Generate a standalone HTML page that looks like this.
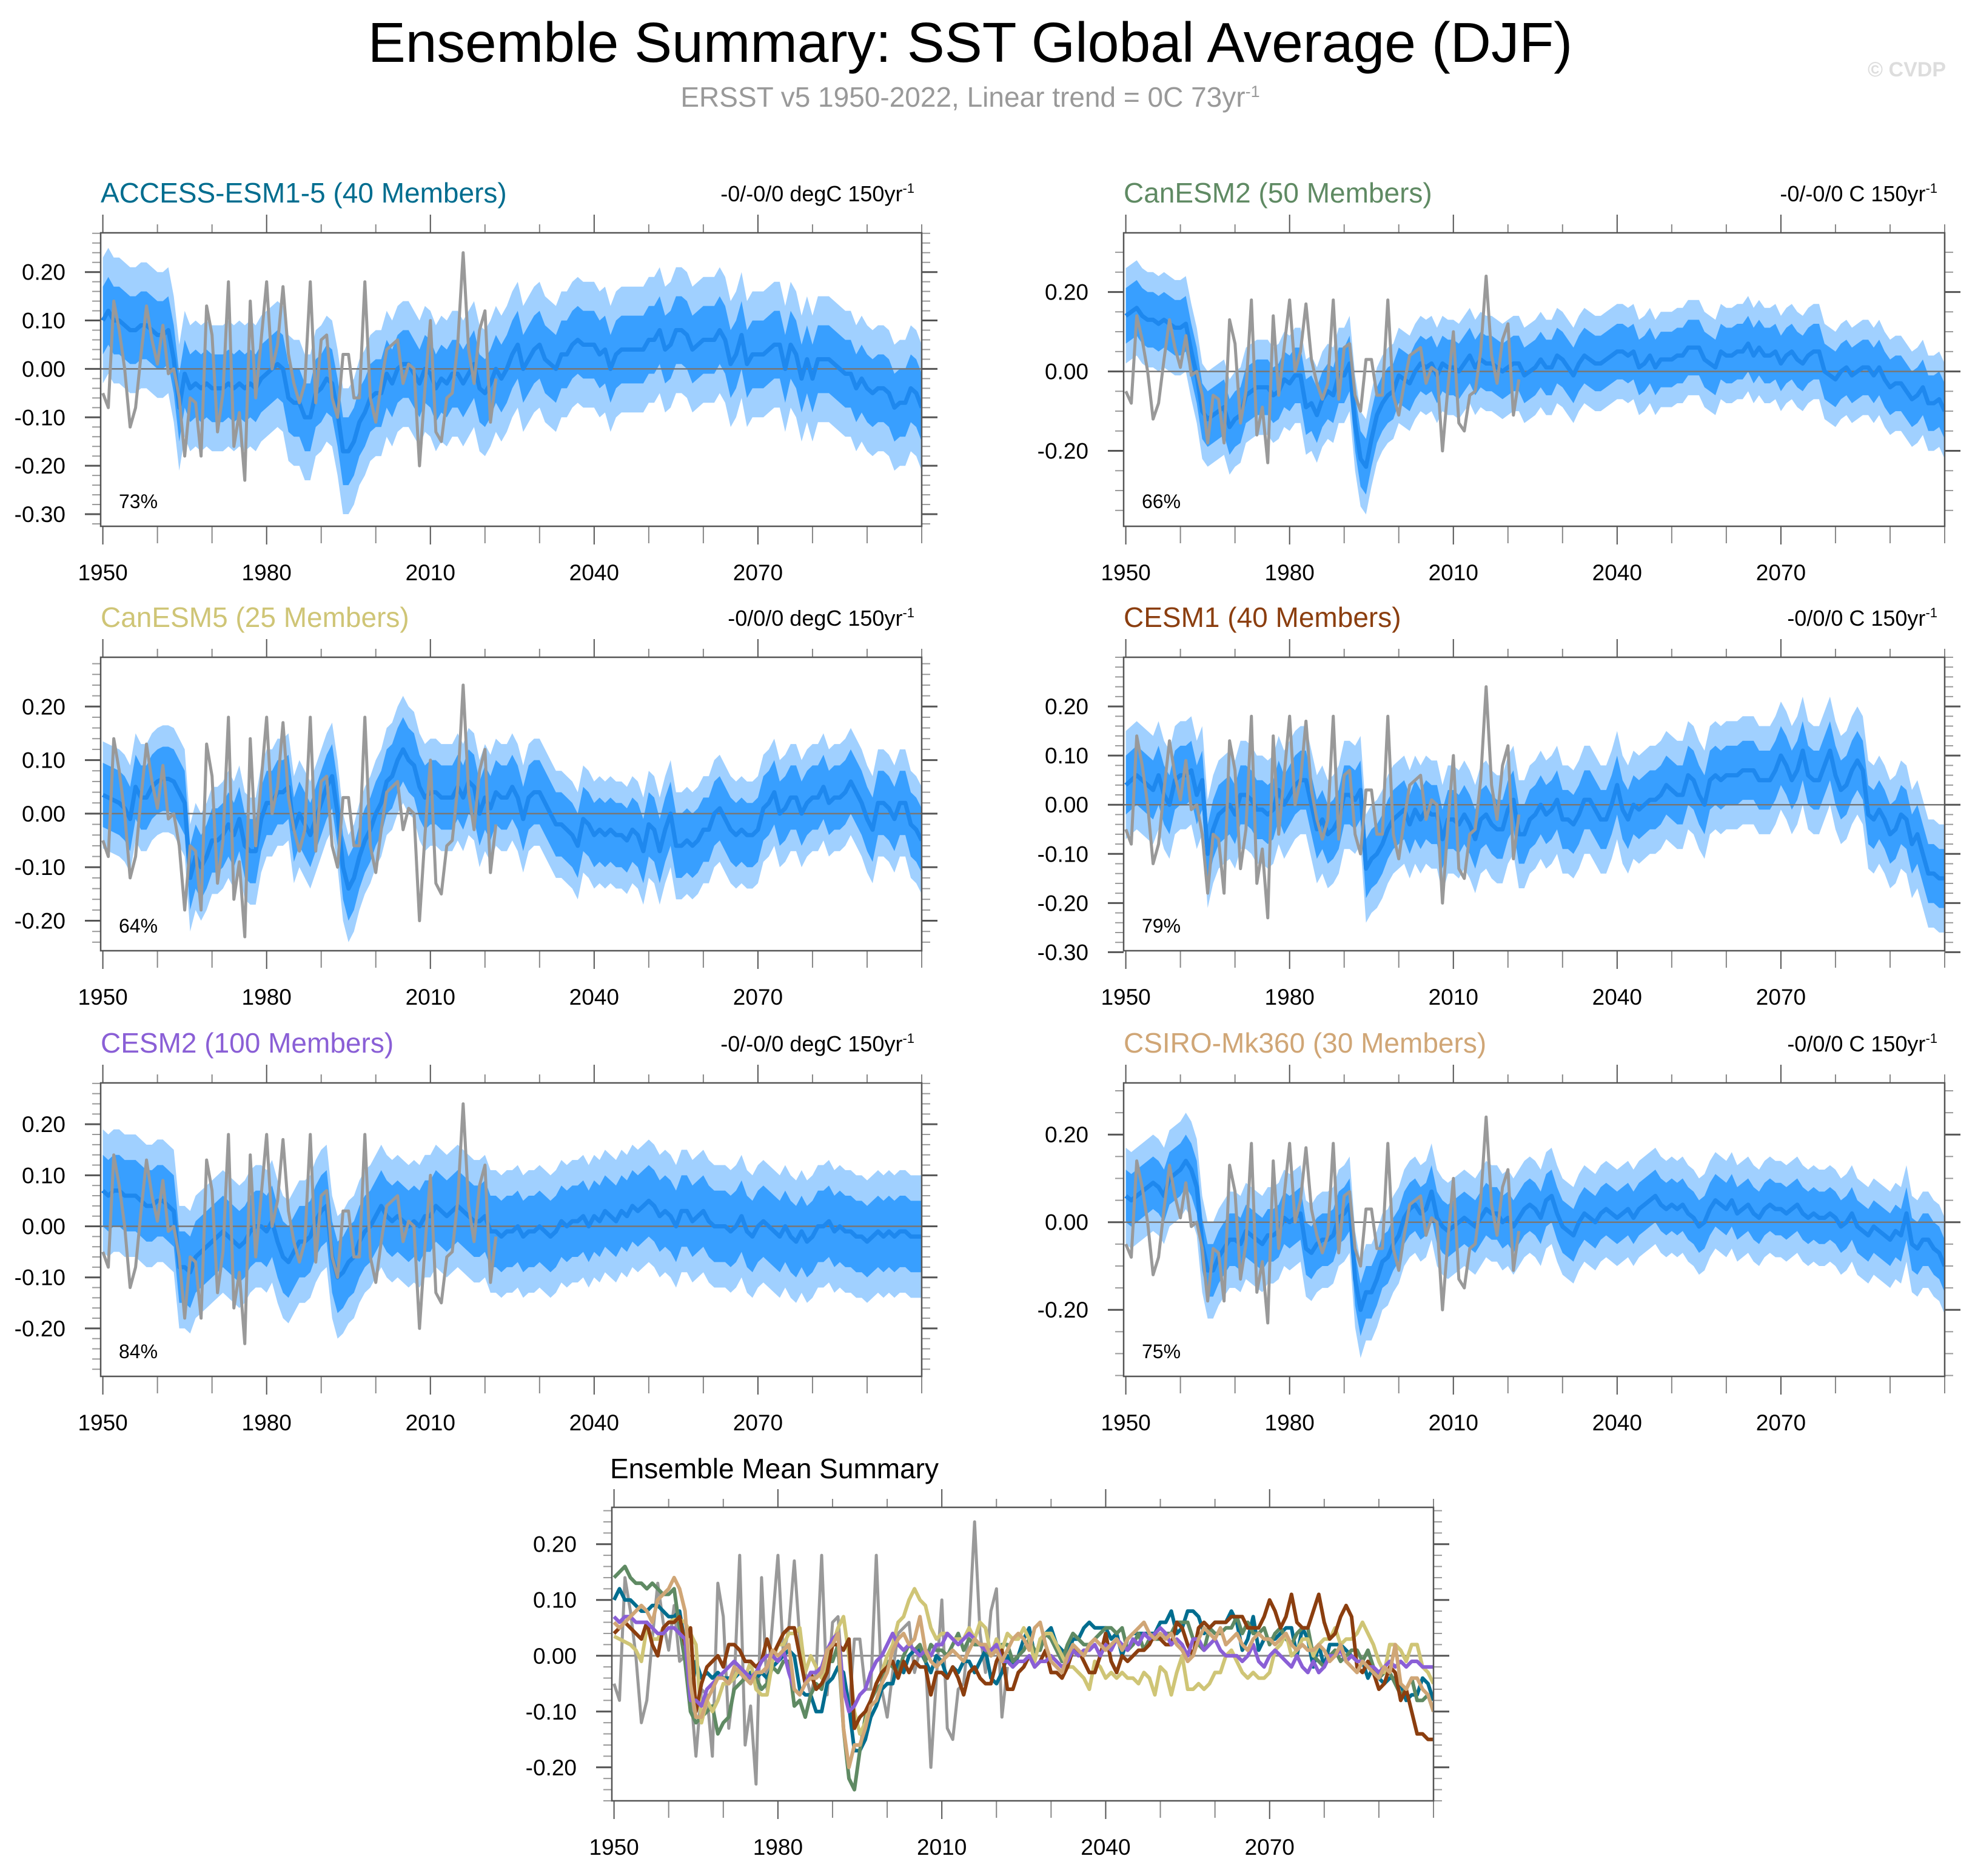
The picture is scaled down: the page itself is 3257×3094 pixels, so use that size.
<!DOCTYPE html>
<html><head><meta charset="utf-8"><style>
html,body{margin:0;padding:0;background:#fff}
svg{display:block;font-family:"Liberation Sans",Arial,sans-serif}
</style></head><body>
<svg id="fig" width="3257" height="3094" viewBox="0 0 3257 3094" xmlns="http://www.w3.org/2000/svg">
<text x="1600" y="102" text-anchor="middle" font-size="93" fill="#000">Ensemble Summary: SST Global Average (DJF)</text>
<text x="1600" y="176" text-anchor="middle" font-size="46" fill="#999">ERSST v5 1950-2022, Linear trend = 0C 73yr<tspan dy="-16" font-size="27">-1</tspan></text>
<text x="3209" y="126" text-anchor="end" font-size="34" font-weight="bold" fill="#ddd">© CVDP</text>
<g id="plots"></g>
</svg>
<script>
const obsYears0 = 1950;
const obs = [-0.05,-0.08,0.14,0.08,0.00,-0.12,-0.08,0.03,0.13,0.06,0.01,0.09,-0.01,0.00,-0.06,-0.18,-0.06,-0.07,-0.18,0.13,0.07,-0.13,-0.05,0.18,-0.16,-0.09,-0.23,0.14,-0.06,0.06,0.18,0.00,0.05,0.17,0.03,-0.03,-0.07,-0.03,0.18,-0.07,0.06,0.07,-0.06,-0.10,0.03,0.03,-0.06,-0.06,0.18,-0.06,-0.11,-0.03,0.04,0.05,0.06,-0.03,0.01,0.00,-0.20,-0.04,0.10,-0.13,-0.15,-0.06,-0.05,0.05,0.24,0.04,-0.03,0.08,0.12,-0.11,-0.02];
const meanACCESS = [0.10,0.12,0.10,0.10,0.09,0.08,0.08,0.09,0.09,0.08,0.07,0.07,0.08,0.02,-0.08,-0.01,-0.04,-0.03,-0.04,-0.03,-0.04,-0.04,-0.04,-0.03,-0.04,-0.03,-0.04,-0.03,-0.04,-0.02,-0.01,0.00,0.01,0.00,-0.06,-0.07,-0.07,-0.10,-0.10,-0.05,-0.04,-0.02,-0.03,-0.09,-0.17,-0.17,-0.15,-0.11,-0.09,-0.06,-0.05,-0.05,-0.01,-0.03,0.00,0.01,0.01,-0.01,-0.03,0.00,-0.01,-0.04,-0.02,-0.03,-0.01,-0.01,-0.03,-0.01,0.01,-0.04,-0.05,-0.03,0.00,-0.02,0.00,0.03,0.05,0.00,0.02,0.04,0.05,0.02,0.01,0.00,0.03,0.03,0.05,0.06,0.05,0.05,0.05,0.03,0.04,0.00,0.03,0.04,0.04,0.04,0.04,0.04,0.06,0.06,0.08,0.04,0.05,0.08,0.08,0.07,0.04,0.05,0.06,0.06,0.06,0.08,0.06,0.01,0.03,0.07,0.01,0.03,0.03,0.03,0.04,0.05,0.05,0.00,0.05,0.03,-0.02,0.02,-0.02,0.02,0.02,0.02,0.01,0.00,-0.01,-0.01,-0.04,-0.02,-0.04,-0.05,-0.04,-0.04,-0.05,-0.08,-0.07,-0.07,-0.04,-0.05,-0.08];
const meanCanESM2 = [0.14,0.15,0.16,0.14,0.13,0.13,0.12,0.13,0.12,0.11,0.11,0.12,0.05,-0.01,-0.10,-0.12,-0.11,-0.10,-0.09,-0.14,-0.12,-0.11,-0.06,-0.05,-0.04,-0.04,-0.04,-0.06,-0.05,-0.02,-0.03,-0.01,-0.01,-0.09,-0.08,-0.11,-0.07,-0.05,-0.06,-0.01,-0.01,0.02,-0.13,-0.22,-0.24,-0.17,-0.11,-0.08,-0.06,-0.05,-0.01,-0.02,-0.03,0.00,0.02,0.01,0.02,-0.01,0.02,0.01,0.01,0.00,0.02,0.04,0.01,0.03,0.02,0.02,0.01,0.00,0.01,0.02,0.02,-0.01,0.00,0.01,0.03,0.01,0.01,0.04,0.03,0.01,-0.01,0.02,0.04,0.03,0.02,0.02,0.03,0.04,0.05,0.05,0.04,0.05,0.01,0.02,0.04,0.01,0.03,0.03,0.03,0.04,0.04,0.06,0.06,0.06,0.03,0.02,0.01,0.05,0.04,0.04,0.05,0.05,0.07,0.04,0.06,0.04,0.04,0.05,0.02,0.04,0.05,0.03,0.02,0.04,0.05,0.05,0.00,-0.01,-0.02,0.00,0.01,-0.01,0.00,0.01,0.01,-0.01,0.01,-0.02,-0.04,-0.03,-0.03,-0.05,-0.07,-0.06,-0.04,-0.08,-0.08,-0.07,-0.10];
const meanCanESM5 = [0.035,0.03,0.025,0.02,0.01,-0.01,0.05,0.03,0.03,0.05,0.06,0.065,0.065,0.06,0.04,0.02,-0.12,-0.08,-0.10,-0.08,-0.05,-0.05,-0.04,-0.02,-0.04,-0.01,-0.06,-0.07,-0.07,-0.01,0.02,0.02,0.04,0.04,0.05,-0.03,0.00,-0.02,-0.04,-0.01,0.02,0.05,0.07,0.00,-0.10,-0.14,-0.12,-0.08,-0.05,-0.03,0.00,0.02,0.06,0.07,0.10,0.12,0.10,0.09,0.05,0.03,0.04,0.04,0.03,0.03,0.03,0.05,0.03,0.06,0.05,0.00,0.03,0.01,0.04,0.03,0.03,0.05,0.03,-0.01,0.03,0.04,0.04,0.02,0.00,-0.02,-0.02,-0.03,-0.04,-0.06,-0.01,-0.02,-0.04,-0.03,-0.04,-0.03,-0.04,-0.04,-0.05,-0.03,-0.04,-0.07,-0.02,-0.03,-0.07,-0.03,0.00,-0.06,-0.06,-0.05,-0.06,-0.05,-0.03,-0.03,0.00,0.01,-0.01,-0.03,-0.04,-0.03,-0.04,-0.04,-0.03,0.01,0.02,0.04,0.00,0.01,0.03,0.03,0.00,0.02,0.03,0.03,0.05,0.02,0.03,0.03,0.04,0.06,0.04,0.02,-0.01,-0.03,0.02,0.02,0.01,-0.01,0.02,0.02,-0.02,-0.03,-0.05];
const meanCESM1 = [0.04,0.05,0.06,0.05,0.04,0.03,0.06,0.02,0.00,0.05,0.06,0.06,0.07,0.02,0.05,-0.10,-0.05,-0.02,-0.01,0.00,-0.02,0.02,0.02,0.01,-0.01,-0.01,-0.02,-0.01,0.03,0.00,0.02,0.04,0.05,0.05,0.00,-0.05,-0.03,-0.06,-0.05,-0.03,0.02,0.02,0.01,0.03,-0.13,-0.11,-0.10,-0.08,-0.05,-0.03,-0.02,-0.01,-0.04,-0.01,-0.03,-0.01,-0.02,-0.02,-0.07,-0.03,-0.03,-0.04,-0.02,-0.04,-0.07,-0.03,-0.02,-0.04,-0.05,-0.05,-0.01,0.01,-0.06,-0.06,-0.03,-0.02,0.00,-0.02,-0.01,0.01,-0.03,-0.03,-0.04,-0.02,0.01,0.01,-0.01,-0.03,-0.03,0.00,0.04,-0.01,-0.03,0.00,-0.01,0.00,0.01,0.01,0.02,0.04,0.03,0.02,0.02,0.06,0.05,0.02,0.00,0.05,0.06,0.05,0.06,0.06,0.06,0.07,0.07,0.07,0.05,0.05,0.05,0.07,0.10,0.08,0.05,0.07,0.11,0.06,0.05,0.05,0.08,0.11,0.06,0.03,0.04,0.07,0.09,0.07,-0.02,-0.03,-0.01,-0.03,-0.06,-0.05,-0.02,-0.03,-0.08,-0.06,-0.10,-0.14,-0.14,-0.15,-0.15];
const meanCESM2 = [0.07,0.06,0.07,0.07,0.06,0.06,0.06,0.05,0.04,0.04,0.05,0.05,0.04,0.03,-0.08,-0.08,-0.09,-0.06,-0.05,-0.04,-0.03,-0.02,-0.01,-0.02,-0.03,-0.04,-0.03,-0.01,0.00,0.00,-0.01,0.01,-0.03,-0.06,-0.07,-0.05,-0.03,-0.03,-0.02,0.01,0.03,0.04,-0.06,-0.10,-0.09,-0.07,-0.06,-0.03,-0.01,0.00,0.02,0.04,0.02,0.01,0.02,0.01,0.00,0.01,0.00,0.02,0.02,0.04,0.03,0.02,0.03,0.04,0.03,0.02,0.01,0.01,0.02,-0.01,-0.01,-0.02,-0.01,-0.01,0.00,-0.02,-0.01,-0.01,0.00,-0.01,-0.02,-0.01,0.01,0.00,0.01,0.01,0.02,0.00,0.02,0.01,0.03,0.02,0.01,0.03,0.02,0.04,0.03,0.04,0.05,0.04,0.02,0.03,0.02,0.00,0.03,0.03,0.01,0.02,0.03,0.01,0.00,0.00,0.00,-0.01,0.00,0.02,-0.01,-0.02,0.00,0.01,0.00,-0.01,-0.02,0.00,-0.02,-0.03,-0.01,-0.03,-0.02,0.00,0.00,0.01,-0.01,0.00,-0.01,-0.01,-0.02,-0.02,-0.03,-0.02,-0.01,-0.02,-0.01,-0.02,-0.01,-0.01,-0.02,-0.02,-0.02];
const meanCSIRO = [0.06,0.05,0.06,0.07,0.08,0.09,0.08,0.06,0.10,0.11,0.12,0.14,0.12,0.08,-0.05,-0.11,-0.11,-0.08,-0.06,-0.04,-0.04,-0.05,-0.02,-0.03,-0.04,-0.05,-0.03,-0.03,-0.02,0.01,0.00,0.01,0.02,-0.06,-0.07,-0.05,-0.04,-0.04,-0.03,0.01,0.02,0.04,-0.13,-0.20,-0.16,-0.16,-0.13,-0.09,-0.08,-0.05,-0.03,0.01,0.03,0.04,0.02,0.03,0.07,0.01,-0.01,-0.02,-0.01,0.00,0.01,0.00,-0.01,0.01,0.03,0.02,0.02,0.00,0.01,-0.01,0.01,0.03,0.04,0.03,0.01,0.05,0.06,0.02,-0.01,-0.02,-0.03,0.00,0.02,0.01,0.00,0.02,0.03,0.02,0.01,0.02,0.03,0.01,0.03,0.04,0.05,0.06,0.04,0.03,0.04,0.03,0.04,0.02,0.01,-0.01,0.00,0.03,0.05,0.04,0.03,0.05,0.02,0.03,0.04,0.02,0.01,0.03,0.04,0.03,0.03,0.02,0.03,0.04,0.02,0.01,0.02,0.01,0.01,0.02,0.01,-0.01,0.00,0.02,-0.01,-0.02,-0.03,-0.01,-0.02,-0.03,-0.04,-0.02,-0.03,0.02,-0.05,-0.06,-0.04,-0.04,-0.06,-0.07,-0.10];
const innerSpread = [0.07,0.07,0.06,0.06,0.07,0.06];
const outerSpread = [0.13,0.12,0.10,0.11,0.12,0.11];
const modelNames = ["ACCESS-ESM1-5 (40 Members)","CanESM2 (50 Members)","CanESM5 (25 Members)","CESM1 (40 Members)","CESM2 (100 Members)","CSIRO-Mk360 (30 Members)"];
const patternPct = ["73%","66%","64%","79%","84%","75%"];
const trendNotes = ["-0/-0/0 degC 150yr","-0/-0/0 C 150yr","-0/0/0 degC 150yr","-0/0/0 C 150yr","-0/-0/0 degC 150yr","-0/0/0 C 150yr"];
const yTicks1 = [0.2,0.1,0,-0.1,-0.2,-0.3];
const yTicks2 = [0.2,0,-0.2];
const yTicks3 = [0.2,0.1,0,-0.1,-0.2];
const xTickYears = [1950,1980,2010,2040,2070];
const means = [meanACCESS,meanCanESM2,meanCanESM5,meanCESM1,meanCESM2,meanCSIRO];
const modelColors = ["#006d8f","#5f8a63","#cfc576","#8b3e0f","#8a5fd6","#d0a676"];

const NS="http://www.w3.org/2000/svg";
const root=document.getElementById('plots');
function mk(tag,attrs,parent){const e=document.createElementNS(NS,tag);for(const k in attrs)e.setAttribute(k,attrs[k]);(parent||root).appendChild(e);return e;}

const panels=[
 {x:166,y:384,w:1354,h:484,ymin:-0.325,ymax:0.281,ticks:yTicks1,minor:0.02},
 {x:1853,y:384,w:1354,h:484,ymin:-0.39,ymax:0.349,ticks:yTicks2,minor:0.05},
 {x:166,y:1084,w:1354,h:484,ymin:-0.256,ymax:0.292,ticks:yTicks3,minor:0.02},
 {x:1853,y:1084,w:1354,h:484,ymin:-0.297,ymax:0.30,ticks:yTicks1,minor:0.02},
 {x:166,y:1786,w:1354,h:484,ymin:-0.294,ymax:0.281,ticks:yTicks3,minor:0.02},
 {x:1853,y:1786,w:1354,h:484,ymin:-0.352,ymax:0.318,ticks:yTicks2,minor:0.05}
];
const bottom={x:1009,y:2486,w:1355,h:484,ymin:-0.26,ymax:0.266,ticks:yTicks3,minor:0.02};

function axes(p){
  const xs=yr=>p.x+(yr-1949.6)*p.w/150.4;
  const ys=v=>p.y+(p.ymax-v)/(p.ymax-p.ymin)*p.h;
  return {xs,ys};
}
function pathFrom(arr,start,xs,ys){return arr.map((v,i)=>(i?'L':'M')+xs(start+i).toFixed(1)+' '+ys(v).toFixed(1)).join(' ');}
function bandPath(arr,d,xs,ys){
  let up=arr.map((v,i)=>(i?'L':'M')+xs(1950+i).toFixed(1)+' '+ys(v+d).toFixed(1)).join(' ');
  let dn=arr.slice().reverse().map((v,i)=>'L'+xs(1950+arr.length-1-i).toFixed(1)+' '+ys(v-d).toFixed(1)).join(' ');
  return up+' '+dn+' Z';
}
function frame(p,g,xs,ys,name){
  const clip=mk('clipPath',{id:'c'+name},g);
  mk('rect',{x:p.x,y:p.y,width:p.w,height:p.h},clip);
  for(let v=Math.ceil(p.ymin/p.minor)*p.minor;v<=p.ymax+1e-9;v+=p.minor){
    const y=ys(v);
    mk('line',{x1:p.x-14,x2:p.x,y1:y,y2:y,stroke:'#999','stroke-width':2},g);
    mk('line',{x1:p.x+p.w,x2:p.x+p.w+14,y1:y,y2:y,stroke:'#999','stroke-width':2},g);
  }
  p.ticks.forEach(v=>{
    const y=ys(v);
    const t1=mk('line',{x1:p.x-26,x2:p.x,y1:y,y2:y,stroke:'#555','stroke-width':3},g);
    
    
    mk('line',{x1:p.x+p.w,x2:p.x+p.w+26,y1:y,y2:y,stroke:'#555','stroke-width':3},g);
    const t=mk('text',{x:p.x-58,y:y+13,'text-anchor':'end','font-size':37,fill:'#000'},g);
    
    
    t.textContent=v.toFixed(2);
  });
  for(let yr=1960;yr<=2100;yr+=10){
    if(xTickYears.includes(yr))continue;
    const x=xs(yr);
    mk('line',{x1:x,x2:x,y1:p.y-14,y2:p.y,stroke:'#888','stroke-width':2},g);
    mk('line',{x1:x,x2:x,y1:p.y+p.h,y2:p.y+p.h+28,stroke:'#888','stroke-width':2},g);
  }
  xTickYears.forEach(yr=>{
    const x=xs(yr);
    mk('line',{x1:x,x2:x,y1:p.y-30,y2:p.y,stroke:'#555','stroke-width':2},g);
    mk('line',{x1:x,x2:x,y1:p.y+p.h,y2:p.y+p.h+30,stroke:'#555','stroke-width':2},g);
    const t=mk('text',{x:x,y:p.y+p.h+89,'text-anchor':'middle','font-size':37,fill:'#000'},g);
    
    
    t.textContent=yr;
  });
}

panels.forEach((p,i)=>{
  const g=mk('g',{});
  
  
  const {xs,ys}=axes(p);
  const cid='p'+i;
  frame(p,g,xs,ys,cid);
  const inner=mk('g',{'clip-path':'url(#c'+cid+')'},g);
  const ob=mk('path',{d:bandPath(means[i],outerSpread[i],xs,ys),fill:'#a0d0ff'},inner);
  
  
  const ib=mk('path',{d:bandPath(means[i],innerSpread[i],xs,ys),fill:'#389fff'},inner);
  
  
  mk('line',{x1:p.x,x2:p.x+p.w,y1:ys(0),y2:ys(0),stroke:'#777','stroke-width':2.5},inner);
  const ml=mk('path',{d:pathFrom(means[i],1950,xs,ys),fill:'none',stroke:'#1e88ee','stroke-width':7,'stroke-linejoin':'round'},inner);
  
  
  const ol=mk('path',{d:pathFrom(obs,obsYears0,xs,ys),fill:'none',stroke:'#999','stroke-width':5,'stroke-linejoin':'round'},inner);
  
  
  mk('rect',{x:p.x,y:p.y,width:p.w,height:p.h,fill:'none',stroke:'#555','stroke-width':2.5},g);
  const tt=mk('text',{x:p.x,y:p.y-50,'font-size':46,fill:modelColors[i]},g);
  
  
  tt.textContent=modelNames[i];
  const nt=mk('text',{x:p.x+p.w-12,y:p.y-52,'text-anchor':'end','font-size':36,fill:'#000'},g);
  
  
  nt.textContent=trendNotes[i];
  const sp=mk('tspan',{dy:-14,'font-size':22},nt); sp.textContent='-1';
  const pc=mk('text',{x:p.x+30,y:p.y+p.h-30,'font-size':32,fill:'#000'},g);
  
  
  pc.textContent=patternPct[i];
});

(function(){
  const p=bottom;
  const g=mk('g',{});
  
  
  const {xs,ys}=axes(p);
  frame(p,g,xs,ys,'bt');
  const inner=mk('g',{'clip-path':'url(#cbt)'},g);
  mk('line',{x1:p.x,x2:p.x+p.w,y1:ys(0),y2:ys(0),stroke:'#888','stroke-width':3},inner);
  const ol=mk('path',{d:pathFrom(obs,obsYears0,xs,ys),fill:'none',stroke:'#999','stroke-width':5,'stroke-linejoin':'round'},inner);
  
  
  means.forEach((m,i)=>{
    const l=mk('path',{d:pathFrom(m,1950,xs,ys),fill:'none',stroke:modelColors[i],'stroke-width':6,'stroke-linejoin':'round'},inner);
    
    
  });
  mk('rect',{x:p.x,y:p.y,width:p.w,height:p.h,fill:'none',stroke:'#555','stroke-width':2.5},g);
  const t=mk('text',{x:p.x-3,y:p.y-48,'font-size':46,fill:'#000'},g);
  
  
  t.textContent='Ensemble Mean Summary';
})();
</script>
</body></html>
